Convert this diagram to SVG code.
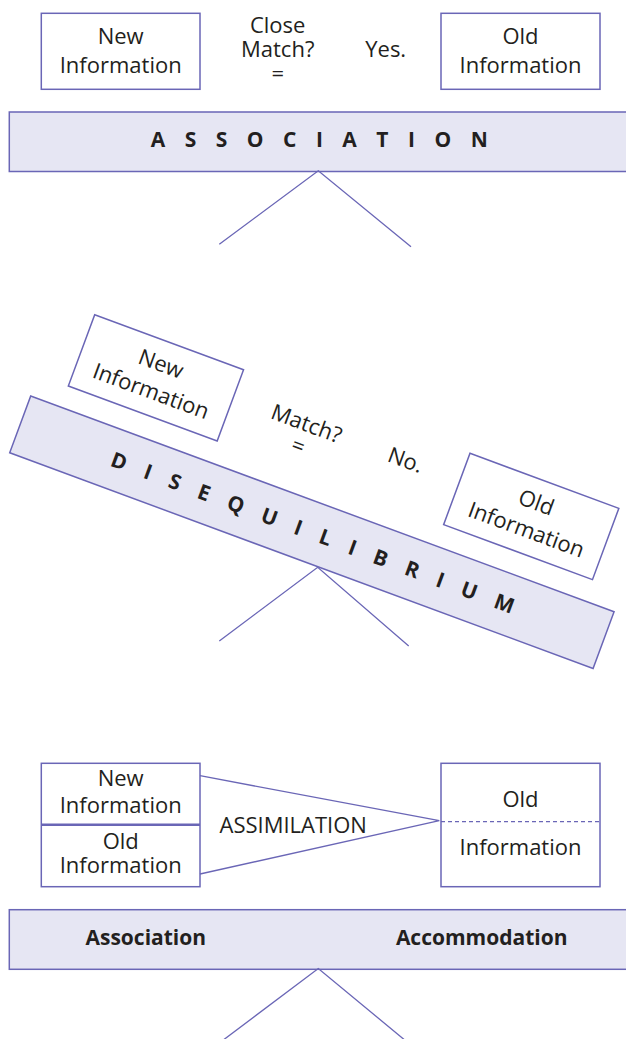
<svg xmlns="http://www.w3.org/2000/svg" width="626" height="1039" viewBox="0 0 626 1039">
  <style>
    .box { fill: #ffffff; stroke: #6a66b6; stroke-width: 1.5; }
    .bar { fill: #e6e6f3; stroke: #6a66b6; stroke-width: 1.5; }
    .ln { fill: none; stroke: #6a66b6; stroke-width: 1.3; }
    .t { font-family: "Open Sans", "Liberation Sans", sans-serif; font-size: 22px; fill: #231f20; text-anchor: middle; }
    .b { font-weight: 700; font-size: 21px; }
    .spaced { text-anchor: start; letter-spacing: 19.5px; }
  </style>
  <rect width="626" height="1039" fill="#ffffff"/>

  <!-- Balanced: association -->
  <g id="new-info-a">
    <rect class="box" x="41.3" y="13.3" width="158.7" height="76"/>
    <text class="t"><tspan x="120.7" y="44">New</tspan><tspan x="120.7" y="73">Information</tspan></text>
  </g>
  <g id="close-match">
    <text class="t"><tspan x="277.7" y="33.3">Close</tspan><tspan x="277.7" y="57.3">Match?</tspan><tspan x="277.7" y="81">=</tspan></text>
  </g>
  <g id="yes">
    <text class="t" x="385.7" y="57.3">Yes.</text>
  </g>
  <g id="old-info-a">
    <rect class="box" x="441" y="13.3" width="159" height="76"/>
    <text class="t"><tspan x="520.5" y="44">Old</tspan><tspan x="520.5" y="73">Information</tspan></text>
  </g>
  <g id="association-bar">
    <rect class="bar" x="9.3" y="112" width="622" height="59.5"/>
    <text class="t b spaced" x="150.7" y="147">ASSOCIATION</text>
  </g>

  <!-- Tilted: disequilibrium -->
  <g id="new-info-d" transform="translate(94.7,314.7) rotate(20.3)">
    <rect class="box" x="0" y="0" width="158.7" height="76"/>
    <text class="t"><tspan x="79.3" y="30.7">New</tspan><tspan x="79.3" y="59.7">Information</tspan></text>
  </g>
  <g id="match" transform="translate(303.9,430.8) rotate(20.3)">
    <text class="t"><tspan x="0" y="0">Match?</tspan><tspan x="0" y="23.7">=</tspan></text>
  </g>
  <g id="no" transform="translate(403,467.2) rotate(20.3)">
    <text class="t" x="0" y="0">No.</text>
  </g>
  <g id="old-info-d" transform="translate(470,453.3) rotate(20.3)">
    <rect class="box" x="0" y="0" width="158.7" height="76"/>
    <text class="t"><tspan x="79.3" y="30.7">Old</tspan><tspan x="79.3" y="59.7">Information</tspan></text>
  </g>
  <g id="disequilibrium-bar" transform="translate(30.7,396) rotate(20.3)">
    <rect class="bar" x="0" y="0" width="622" height="60.5"/>
    <text class="t b spaced" x="97.8" y="37.8">DISEQUILIBRIUM</text>
  </g>

  <!-- Resolved: assimilation and accommodation -->
  <g id="new-old-info">
    <rect class="box" x="41.3" y="763.3" width="158.7" height="123.4"/>
    <line x1="41.3" y1="824.7" x2="200" y2="824.7" stroke="#6a66b6" stroke-width="2.4"/>
    <text class="t"><tspan x="120.7" y="785.7">New</tspan><tspan x="120.7" y="813.3">Information</tspan></text>
    <text class="t"><tspan x="120.7" y="849.3">Old</tspan><tspan x="120.7" y="873.3">Information</tspan></text>
  </g>
  <g id="assimilation">
    <text class="t" x="293.2" y="833.3">ASSIMILATION</text>
  </g>
  <g id="old-info-r">
    <rect class="box" x="441" y="763.3" width="159" height="123.4"/>
    <line x1="441" y1="821.7" x2="600" y2="821.7" stroke="#6a66b6" stroke-width="1.3" stroke-dasharray="4 3"/>
    <text class="t" x="520.5" y="806.7">Old</text>
    <text class="t" x="520.5" y="855">Information</text>
  </g>
  <g id="balance-bar">
    <rect class="bar" x="9.3" y="909.7" width="622" height="59.6"/>
    <text class="t b" x="145.8" y="945">Association</text>
    <text class="t b" x="481.7" y="945">Accommodation</text>
  </g>

  <g id="connectors">
    <polyline class="ln" points="219.3,244.3 318.3,170.7 411,246.7"/>
    <polyline class="ln" points="219.3,641 317.7,567.3 408.7,646"/>
    <polyline class="ln" points="200,775.7 439.3,820.7 200,874"/>
    <polyline class="ln" points="223.3,1040 318.3,968.5 404.7,1040"/>
  </g>
</svg>
